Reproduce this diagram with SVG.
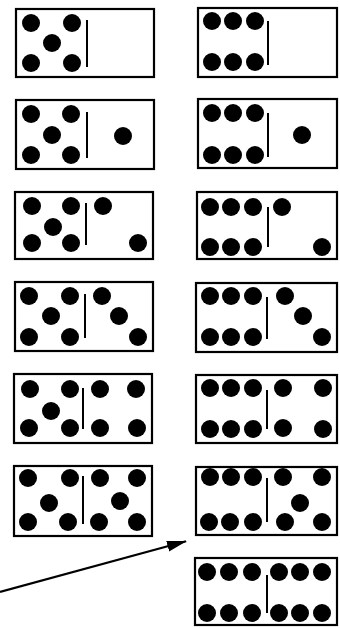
<svg xmlns="http://www.w3.org/2000/svg" width="340" height="628" viewBox="0 0 340 628">
<style>
.box{fill:#fff;stroke:#000;stroke-width:2.2}
.pip{fill:#000}
.dv{stroke:#000;stroke-width:2;fill:none}
.conn{stroke:#000;stroke-width:2.2;fill:none}
</style>
<defs>
<circle id="p" r="9" class="pip"/>
<marker id="ah" markerUnits="userSpaceOnUse" markerWidth="22" markerHeight="12" refX="19" refY="5.5" orient="auto">
<path d="M0,0 L20,5.5 L0,11 Z" fill="#000"/>
</marker>
</defs>
<rect width="340" height="628" fill="#fff"/>

<g id="L1" transform="translate(0,9)">
<rect class="box" x="16" y="0" width="138" height="68"/>
<line class="dv" x1="87" y1="11" x2="87" y2="58"/>
<use href="#p" x="31" y="14"/><use href="#p" x="72" y="14"/><use href="#p" x="52" y="34"/><use href="#p" x="31" y="54"/><use href="#p" x="72" y="54"/>
</g>
<g id="L2" transform="translate(0,100)">
<rect class="box" x="16" y="0" width="138" height="69"/>
<line class="dv" x1="87" y1="12" x2="87" y2="58"/>
<use href="#p" x="31" y="14"/><use href="#p" x="71" y="14"/><use href="#p" x="52" y="35"/><use href="#p" x="31" y="55"/><use href="#p" x="71" y="55"/>
<use href="#p" x="123" y="36"/>
</g>
<g id="L3" transform="translate(0,192)">
<rect class="box" x="15" y="0" width="138" height="67"/>
<line class="dv" x1="86" y1="11" x2="86" y2="53"/>
<use href="#p" x="32" y="14"/><use href="#p" x="71" y="14"/><use href="#p" x="53" y="35"/><use href="#p" x="32" y="51"/><use href="#p" x="71" y="51"/>
<use href="#p" x="103" y="14"/><use href="#p" x="138" y="51"/>
</g>
<g id="L4" transform="translate(0,282)">
<rect class="box" x="15" y="0" width="138" height="69"/>
<line class="dv" x1="85" y1="12" x2="85" y2="56"/>
<use href="#p" x="29" y="14"/><use href="#p" x="70" y="14"/><use href="#p" x="51" y="34"/><use href="#p" x="29" y="55"/><use href="#p" x="70" y="55"/>
<use href="#p" x="102" y="14"/><use href="#p" x="119" y="34"/><use href="#p" x="138" y="55"/>
</g>
<g id="L5" transform="translate(0,374)">
<rect class="box" x="14" y="0" width="138" height="69"/>
<line class="dv" x1="83" y1="14" x2="83" y2="55"/>
<use href="#p" x="30" y="15"/><use href="#p" x="70" y="15"/><use href="#p" x="51" y="37"/><use href="#p" x="29" y="54"/><use href="#p" x="70" y="54"/>
<use href="#p" x="100" y="15"/><use href="#p" x="136" y="15"/><use href="#p" x="100" y="54"/><use href="#p" x="137" y="54"/>
</g>
<g id="L6" transform="translate(0,466)">
<rect class="box" x="14" y="0" width="138" height="70"/>
<line class="dv" x1="83" y1="10" x2="83" y2="58"/>
<use href="#p" x="28" y="12"/><use href="#p" x="70" y="12"/><use href="#p" x="49" y="37"/><use href="#p" x="28" y="56"/><use href="#p" x="68" y="56"/>
<use href="#p" x="100" y="12"/><use href="#p" x="137" y="12"/><use href="#p" x="120" y="35"/><use href="#p" x="99" y="56"/><use href="#p" x="137" y="56"/>
</g>

<g id="R1" transform="translate(0,8)">
<rect class="box" x="198" y="0" width="139" height="69"/>
<line class="dv" x1="268" y1="13" x2="268" y2="57"/>
<use href="#p" x="212" y="13"/><use href="#p" x="233" y="13"/><use href="#p" x="255" y="13"/><use href="#p" x="212" y="54"/><use href="#p" x="233" y="54"/><use href="#p" x="255" y="54"/>
</g>
<g id="R2" transform="translate(0,99)">
<rect class="box" x="198" y="0" width="139" height="69"/>
<line class="dv" x1="268" y1="14" x2="268" y2="58"/>
<use href="#p" x="212" y="14"/><use href="#p" x="233" y="14"/><use href="#p" x="255" y="14"/><use href="#p" x="212" y="56"/><use href="#p" x="233" y="56"/><use href="#p" x="255" y="56"/>
<use href="#p" x="302" y="36"/>
</g>
<g id="R3" transform="translate(0,192)">
<rect class="box" x="197" y="0" width="140" height="67"/>
<line class="dv" x1="268" y1="15" x2="268" y2="55"/>
<use href="#p" x="210" y="15"/><use href="#p" x="231" y="15"/><use href="#p" x="253" y="15"/><use href="#p" x="210" y="55"/><use href="#p" x="231" y="55"/><use href="#p" x="253" y="55"/>
<use href="#p" x="282" y="15"/><use href="#p" x="322" y="55"/>
</g>
<g id="R4" transform="translate(0,283)">
<rect class="box" x="196" y="0" width="141" height="69"/>
<line class="dv" x1="267" y1="14" x2="267" y2="56"/>
<use href="#p" x="210" y="13"/><use href="#p" x="231" y="13"/><use href="#p" x="253" y="13"/><use href="#p" x="210" y="54"/><use href="#p" x="231" y="54"/><use href="#p" x="253" y="54"/>
<use href="#p" x="285" y="13"/><use href="#p" x="303" y="33"/><use href="#p" x="322" y="54"/>
</g>
<g id="R5" transform="translate(0,375)">
<rect class="box" x="196" y="0" width="141" height="68"/>
<line class="dv" x1="267" y1="15" x2="267" y2="54"/>
<use href="#p" x="210" y="13"/><use href="#p" x="231" y="13"/><use href="#p" x="253" y="13"/><use href="#p" x="210" y="54"/><use href="#p" x="231" y="54"/><use href="#p" x="253" y="54"/>
<use href="#p" x="283" y="13"/><use href="#p" x="323" y="13"/><use href="#p" x="283" y="53"/><use href="#p" x="323" y="54"/>
</g>
<g id="R6" transform="translate(0,467)">
<rect class="box" x="196" y="0" width="141" height="68"/>
<line class="dv" x1="267" y1="11" x2="267" y2="55"/>
<use href="#p" x="210" y="10"/><use href="#p" x="231" y="10"/><use href="#p" x="253" y="10"/><use href="#p" x="209" y="55"/><use href="#p" x="230" y="55"/><use href="#p" x="253" y="55"/>
<use href="#p" x="283" y="10"/><use href="#p" x="322" y="10"/><use href="#p" x="300" y="36"/><use href="#p" x="285" y="55"/><use href="#p" x="322" y="55"/>
</g>
<g id="R7" transform="translate(0,558)">
<rect class="box" x="195" y="0" width="142" height="67"/>
<line class="dv" x1="267" y1="17" x2="267" y2="55"/>
<use href="#p" x="207" y="14"/><use href="#p" x="229" y="14"/><use href="#p" x="252" y="14"/><use href="#p" x="207" y="55"/><use href="#p" x="229" y="55"/><use href="#p" x="252" y="55"/>
<use href="#p" x="279" y="14"/><use href="#p" x="300" y="14"/><use href="#p" x="322" y="14"/><use href="#p" x="279" y="55"/><use href="#p" x="300" y="55"/><use href="#p" x="322" y="55"/>
</g>

<g id="connectors">
<line class="conn" x1="0" y1="592" x2="186" y2="541.3" marker-end="url(#ah)"/>
</g>
</svg>
